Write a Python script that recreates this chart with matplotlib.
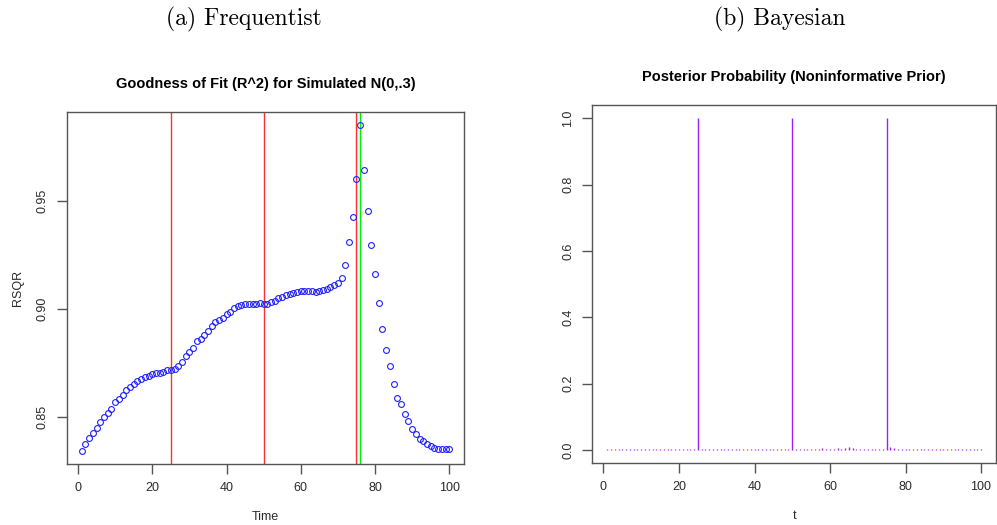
import matplotlib
matplotlib.use("Agg")
import matplotlib.pyplot as plt

# ---- data ----
time = list(range(1, 101))
rsqr = [0.8345, 0.8378, 0.8407, 0.8429, 0.8452, 0.8477, 0.8503, 0.8520, 0.8540, 0.8573,
        0.8587, 0.8605, 0.8625, 0.8641, 0.8655, 0.8667, 0.8678, 0.8686, 0.8693, 0.8700,
        0.8703, 0.8706, 0.8712, 0.8717, 0.8720, 0.8724, 0.8738, 0.8755, 0.8783, 0.8803,
        0.8822, 0.8853, 0.8864, 0.8882, 0.8899, 0.8923, 0.8943, 0.8950, 0.8960, 0.8977,
        0.8988, 0.9005, 0.9014, 0.9019, 0.9022, 0.9025, 0.9025, 0.9026, 0.9028, 0.9026,
        0.9022, 0.9034, 0.9040, 0.9050, 0.9056, 0.9065, 0.9070, 0.9074, 0.9079, 0.9082,
        0.9082, 0.9082, 0.9082, 0.9079, 0.9082, 0.9087, 0.9094, 0.9104, 0.9113, 0.9123,
        0.9144, 0.9202, 0.9311, 0.9428, 0.9601, 0.9851, 0.9645, 0.9455, 0.9296, 0.9164,
        0.9029, 0.8907, 0.8811, 0.8739, 0.8655, 0.8592, 0.8560, 0.8516, 0.8482, 0.8448,
        0.8424, 0.8402, 0.8389, 0.8378, 0.8367, 0.8360, 0.8356, 0.8356, 0.8356, 0.8353]
red_lines = [25, 50, 75]
green_lines = [76]

t = list(range(1, 101))
posterior = [0.003, 0.002, 0.003, 0.002, 0.003, 0.004, 0.002, 0.003, 0.004, 0.003,
             0.002, 0.003, 0.003, 0.002, 0.004, 0.003, 0.002, 0.003, 0.004, 0.003,
             0.002, 0.003, 0.004, 0.003, 1.000, 0.004, 0.003, 0.002, 0.004, 0.003,
             0.003, 0.004, 0.002, 0.003, 0.004, 0.003, 0.002, 0.003, 0.004, 0.003,
             0.002, 0.004, 0.003, 0.002, 0.003, 0.004, 0.003, 0.002, 0.003, 1.000,
             0.004, 0.003, 0.002, 0.003, 0.004, 0.003, 0.004, 0.005, 0.004, 0.003,
             0.004, 0.005, 0.004, 0.006, 0.010, 0.005, 0.004, 0.003, 0.004, 0.003,
             0.002, 0.003, 0.003, 0.002, 1.000, 0.008, 0.006, 0.004, 0.003, 0.004,
             0.003, 0.002, 0.004, 0.003, 0.003, 0.004, 0.002, 0.003, 0.004, 0.003,
             0.002, 0.003, 0.004, 0.003, 0.002, 0.003, 0.004, 0.003, 0.002, 0.003]

xticks = [0, 20, 40, 60, 80, 100]
left_yticks = [0.85, 0.90, 0.95]
right_yticks = [0.0, 0.2, 0.4, 0.6, 0.8, 1.0]

# ---- figure ----
plt.rcParams['font.family'] = ['Liberation Sans', 'DejaVu Sans']
fig = plt.figure(figsize=(9.97, 5.25), dpi=100)

axL = fig.add_axes([0.0672, 0.1162, 0.3982, 0.6705])
axR = fig.add_axes([0.5941, 0.1175, 0.4049, 0.6825])

spine_col = '#555555'
txt_col = '#2a2a2a'

def style(ax):
    for s in ax.spines.values():
        s.set_color(spine_col)
        s.set_linewidth(1.0)
    ax.tick_params(direction='out', length=7, width=1.0, color=spine_col,
                   labelsize=9, labelcolor=txt_col, pad=6)
    ax.tick_params(axis='y', labelrotation=90)
    for lab in ax.get_yticklabels():
        lab.set_va('center')

# Left panel
for xv in red_lines:
    axL.axvline(xv, color='#ff3030', lw=1.0, zorder=1)
for xv in green_lines:
    axL.axvline(xv, color='#00ee00', lw=1.0, zorder=1)
axL.plot(time, rsqr, linestyle='none', marker='o', markersize=4.2,
         markerfacecolor='none', markeredgecolor='#2020ff', markeredgewidth=0.8, zorder=2)
axL.margins(x=0.04, y=0.04)
axL.set_xticks(xticks)
axL.set_yticks(left_yticks)
axL.set_yticklabels(['0.85', '0.90', '0.95'])
style(axL)
axL.set_xlabel('Time', fontsize=9, color=txt_col, labelpad=12)
axL.set_ylabel('RSQR', fontsize=9, color=txt_col, labelpad=9)
axL.set_title('Goodness of Fit (R^2) for Simulated N(0,.3)', fontsize=10.5,
              fontweight='bold', pad=17)

# Right panel
axR.vlines(t, 0, posterior, color='#a020f0', lw=1.0)
axR.margins(x=0.04, y=0.04)
axR.set_xticks(xticks)
axR.set_yticks(right_yticks)
axR.set_yticklabels(['0.0', '0.2', '0.4', '0.6', '0.8', '1.0'])
style(axR)
axR.set_xlabel('t', fontsize=9, color=txt_col, labelpad=12)
axR.set_title('Posterior Probability (Noninformative Prior)', fontsize=10.5,
              fontweight='bold', pad=17)

# Panel captions
fig.text(244 / 997, 1 - 19 / 525, '(a) Frequentist', family='cmr10', fontsize=17,
         ha='center', va='center')
fig.text(780 / 997, 1 - 19 / 525, '(b) Bayesian', family='cmr10', fontsize=17,
         ha='center', va='center')

fig.savefig('out.png', dpi=100)
